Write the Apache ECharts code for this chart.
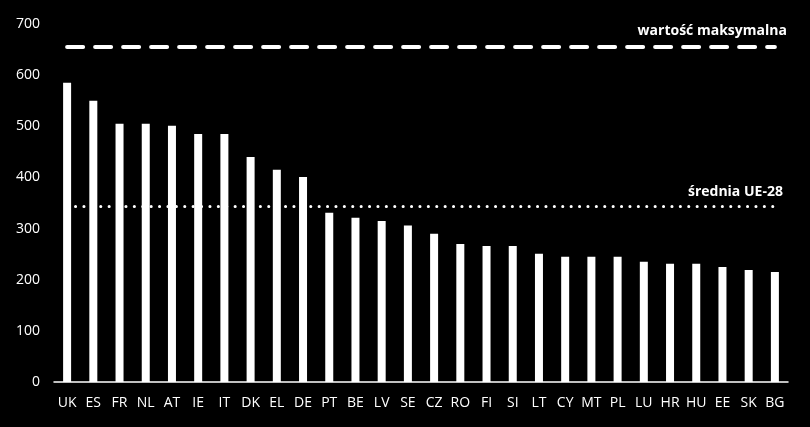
<!DOCTYPE html>
<html>
<head>
<meta charset="utf-8">
<style>
  html, body { margin: 0; padding: 0; background: #000; }
  #chart { width: 810px; height: 427px; }
</style>
<script src="https://cdn.jsdelivr.net/npm/echarts@6/dist/echarts.min.js"></script>
</head>
<body>
<div id="chart"></div>
<script>
// country codes, sorted by value
var countries = ['UK', 'ES', 'FR', 'NL', 'AT', 'IE', 'IT', 'DK', 'EL', 'DE', 'PT', 'BE', 'LV', 'SE',
  'CZ', 'RO', 'FI', 'SI', 'LT', 'CY', 'MT', 'PL', 'LU', 'HR', 'HU', 'EE', 'SK', 'BG'];
var values = [585, 550, 505, 505, 501, 485, 485, 440, 415, 401, 331, 321, 315, 306,
  290, 270, 266, 266, 251, 245, 245, 245, 235, 231, 231, 225, 219, 215];
var maxValue = 656;
var euAverage = 343;
var maxLabel = 'wartość maksymalna';
var avgLabel = 'średnia UE-28';

var chart = echarts.init(document.getElementById('chart'));

var textFont = '"Open Sans", "Noto Sans", sans-serif';

var option = {
  backgroundColor: '#000',
  animation: false,
  grid: { left: 54, right: 22, top: 24, bottom: 45 },
  xAxis: {
    type: 'category',
    data: countries,
    axisLine: { lineStyle: { color: '#fff', width: 1.5 } },
    axisTick: { show: false },
    axisLabel: { color: '#fff', fontSize: 14, fontFamily: textFont, margin: 14, interval: 0 }
  },
  yAxis: {
    type: 'value',
    min: 0,
    max: 700,
    interval: 100,
    axisLine: { show: false },
    axisTick: { show: false },
    splitLine: { show: false },
    axisLabel: { color: '#fff', fontSize: 14, fontFamily: textFont, margin: 14 }
  },
  series: [
    {
      type: 'bar',
      data: values,
      barWidth: 8,
      itemStyle: { color: '#fff' },
      markLine: {
        silent: true,
        symbol: 'none',
        data: [
          [
            {
              coord: [countries[0], maxValue],
              lineStyle: { color: '#fff', width: 4, type: [16, 12], cap: 'round' },
              label: {
                show: true,
                formatter: maxLabel,
                position: 'insideEndTop',
                color: '#fff',
                fontSize: 14,
                fontWeight: 'bold',
                fontFamily: textFont,
                distance: [-12, 8]
              }
            },
            { coord: [countries[countries.length - 1], maxValue] }
          ],
          [
            {
              coord: [countries[0], euAverage],
              lineStyle: { color: '#fff', width: 3, type: [0.1, 8.3], cap: 'round' },
              label: {
                show: true,
                formatter: avgLabel,
                position: 'insideEndTop',
                color: '#fff',
                fontSize: 14,
                fontWeight: 'bold',
                fontFamily: textFont,
                distance: [-8, 8]
              }
            },
            { coord: [countries[countries.length - 1], euAverage] }
          ]
        ]
      }
    }
  ]
};

chart.setOption(option);
</script>
</body>
</html>
